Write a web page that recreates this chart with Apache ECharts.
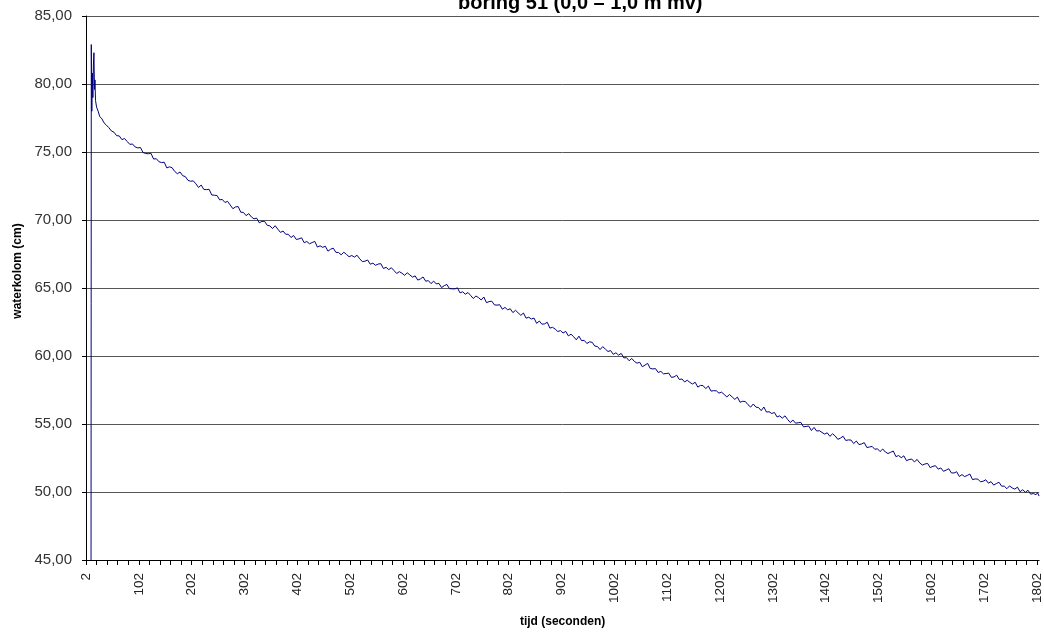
<!DOCTYPE html>
<html>
<head>
<meta charset="utf-8">
<title>boring 51</title>
<script src="https://cdn.jsdelivr.net/npm/echarts@6/dist/echarts.min.js"></script>
<style>
  html, body { margin: 0; padding: 0; background: #fff; }
  #chart { width: 1044px; height: 634px; }
</style>
</head>
<body>
<div id="chart"></div>
<script>
const seconds = [
  2, 11, 12, 13, 14, 15, 16, 17, 18, 19, 20, 22, 25, 28, 32, 36, 40, 45, 50, 55,
  60, 65, 70, 75, 80, 85, 90, 95, 100, 105, 110, 115, 120, 125, 130, 135, 140, 145, 150, 155,
  160, 165, 170, 175, 180, 185, 190, 195, 200, 205, 210, 215, 220, 225, 230, 235, 240, 245, 250, 255,
  260, 265, 270, 275, 280, 285, 290, 295, 300, 305, 310, 315, 320, 325, 330, 335, 340, 345, 350, 355,
  360, 365, 370, 375, 380, 385, 390, 395, 400, 405, 410, 415, 420, 425, 430, 435, 440, 445, 450, 455,
  460, 465, 470, 475, 480, 485, 490, 495, 500, 505, 510, 515, 520, 525, 530, 535, 540, 545, 550, 555,
  560, 565, 570, 575, 580, 585, 590, 595, 600, 605, 610, 615, 620, 625, 630, 635, 640, 645, 650, 655,
  660, 665, 670, 675, 680, 685, 690, 695, 700, 705, 710, 715, 720, 725, 730, 735, 740, 745, 750, 755,
  760, 765, 770, 775, 780, 785, 790, 795, 800, 805, 810, 815, 820, 825, 830, 835, 840, 845, 850, 855,
  860, 865, 870, 875, 880, 885, 890, 895, 900, 905, 910, 915, 920, 925, 930, 935, 940, 945, 950, 955,
  960, 965, 970, 975, 980, 985, 990, 995, 1000, 1005, 1010, 1015, 1020, 1025, 1030, 1035, 1040, 1045, 1050, 1055,
  1060, 1065, 1070, 1075, 1080, 1085, 1090, 1095, 1100, 1105, 1110, 1115, 1120, 1125, 1130, 1135, 1140, 1145, 1150, 1155,
  1160, 1165, 1170, 1175, 1180, 1185, 1190, 1195, 1200, 1205, 1210, 1215, 1220, 1225, 1230, 1235, 1240, 1245, 1250, 1255,
  1260, 1265, 1270, 1275, 1280, 1285, 1290, 1295, 1300, 1305, 1310, 1315, 1320, 1325, 1330, 1335, 1340, 1345, 1350, 1355,
  1360, 1365, 1370, 1375, 1380, 1385, 1390, 1395, 1400, 1405, 1410, 1415, 1420, 1425, 1430, 1435, 1440, 1445, 1450, 1455,
  1460, 1465, 1470, 1475, 1480, 1485, 1490, 1495, 1500, 1505, 1510, 1515, 1520, 1525, 1530, 1535, 1540, 1545, 1550, 1555,
  1560, 1565, 1570, 1575, 1580, 1585, 1590, 1595, 1600, 1605, 1610, 1615, 1620, 1625, 1630, 1635, 1640, 1645, 1650, 1655,
  1660, 1665, 1670, 1675, 1680, 1685, 1690, 1695, 1700, 1705, 1710, 1715, 1720, 1725, 1730, 1735, 1740, 1745, 1750, 1755,
  1760, 1765, 1770, 1775, 1780, 1785, 1790, 1795, 1800, 1803, 1806
];

// waterkolom (cm)
const waterkolom = [
  0, 0, 82.9, 78.0, 80.8, 79.0, 81.4, 82.3, 79.6, 80.3, 78.8, 78.3, 78.0, 77.6, 77.45, 77.15, 77.0, 76.8, 76.55, 76.45,
  76.2, 76.18, 75.91, 75.99, 75.77, 75.56, 75.59, 75.37,
  75.3, 75.33, 74.96, 74.89, 74.87, 74.9, 74.48, 74.51, 74.29, 74.22, 74.25, 73.83, 73.91, 73.84, 73.57, 73.4, 73.53, 73.26, 73.19, 72.92,
  72.85, 72.88, 72.66, 72.39, 72.57, 72.25, 72.23, 72.26, 71.84, 71.82, 71.8, 71.48, 71.51, 71.29, 71.37, 71.1, 70.83, 70.96, 70.99, 70.57,
  70.56, 70.32, 70.47, 70.23, 70.08, 70.14, 69.79, 69.9, 69.9, 69.61, 69.57, 69.37, 69.58, 69.33, 69.09, 69.19, 68.95, 68.95, 68.71, 68.86,
  68.57, 68.61, 68.69, 68.33, 68.42, 68.25, 68.34, 68.43, 68.01, 68.1, 67.99, 68.07, 67.71, 67.85, 67.93, 67.62, 67.61, 67.44, 67.63, 67.47,
  67.3, 67.39, 67.27, 67.41, 67.15, 66.94, 66.97, 67.06, 66.75, 66.83, 66.67, 66.76, 66.79, 66.43, 66.52, 66.35, 66.49, 66.28, 66.07, 66.2,
  66.09, 65.93, 66.12, 65.96, 65.8, 65.89, 65.58, 65.67, 65.81, 65.5, 65.54, 65.32, 65.51, 65.3, 65.34, 65.03, 65.17, 65.26, 64.95, 64.94,
  64.93, 65.01, 64.64, 64.72, 64.54, 64.67, 64.45, 64.23, 64.41, 64.29, 64.12, 64.34, 63.92, 64.0, 64.03, 63.76, 63.74, 63.77, 63.44, 63.57,
  63.4, 63.47, 63.19, 63.36, 63.17, 62.99, 63.16, 62.78, 62.85, 62.72, 62.79, 62.4, 62.57, 62.34, 62.36, 62.48, 62.05, 62.11, 61.98, 61.8,
  61.87, 61.69, 61.81, 61.48, 61.6, 61.42, 61.19, 61.46, 61.13, 61.15, 60.92, 61.04, 61.01, 60.73, 60.7, 60.47, 60.69, 60.51, 60.33, 60.4,
  60.12, 60.24, 60.06, 60.19, 59.86, 59.88, 59.65, 59.82, 59.6, 59.47, 59.54, 59.21, 59.33, 59.46, 59.08, 59.05, 59.07, 58.79, 58.87, 58.69,
  58.71, 58.74, 58.43, 58.46, 58.59, 58.27, 58.31, 58.09, 58.22, 58.06, 57.94, 58.07, 57.71, 57.84, 57.82, 57.6, 57.79, 57.42, 57.45, 57.44,
  57.27, 57.34, 57.17, 56.99, 57.17, 56.99, 56.81, 56.98, 56.6, 56.67, 56.65, 56.42, 56.24, 56.47, 56.24, 56.21, 55.98, 56.25, 55.88, 55.9,
  55.77, 55.85, 55.52, 55.6, 55.43, 55.6, 55.33, 55.11, 55.29, 55.06, 55.09, 55.12, 54.79, 54.82, 54.85, 54.52, 54.75, 54.48, 54.51, 54.38,
  54.26, 54.35, 54.09, 54.28, 54.12, 53.87, 53.96, 54.1, 53.79, 53.83, 53.82, 53.56, 53.75, 53.49, 53.53, 53.63, 53.27, 53.31, 53.35, 53.14,
  53.18, 52.97, 53.16, 52.94, 52.83, 52.92, 53.01, 52.6, 52.68, 52.52, 52.66, 52.3, 52.39, 52.42, 52.21, 52.4, 52.14, 51.98, 52.06, 52.1,
  51.79, 51.89, 51.93, 51.68, 51.77, 51.52, 51.61, 51.71, 51.4, 51.4, 51.49, 51.14, 51.28, 51.13, 51.22, 51.32, 50.91, 50.96, 50.95, 50.75,
  50.79, 50.9, 50.65, 50.76, 50.51, 50.62, 50.72, 50.43, 50.43, 50.24, 50.45, 50.3, 50.21, 50.36, 50.02, 50.17, 49.98, 50.13, 49.84, 49.89,
  49.8, 49.95, 49.7
];

// categorie-as van Excel: elke seconde van 2 t/m 1806
const firstSecond = 2;
const lastSecond = 1806;
const categories = [];
for (let s = firstSecond; s <= lastSecond; s++) categories.push(String(s));

const yTicks = { min: 45, max: 85, step: 5 };

const fmt = v => v.toFixed(2).replace('.', ',');

let myChart = echarts.init(document.getElementById('chart'));

myChart.setOption({
  animation: false,
  backgroundColor: '#fff',
  title: {
    text: 'boring 51 (0,0 \u2013 1,0 m mv)',
    left: 453,
    top: -12,
    textStyle: { fontFamily: 'Liberation Sans, Arial', fontSize: 20, fontWeight: 'bold', color: '#000' }
  },
  grid: { left: 86, right: 4, top: 16, bottom: 74 },
  xAxis: {
    type: 'category',
    data: categories,
    boundaryGap: false,
    name: 'tijd (seconden)',
    nameLocation: 'middle',
    nameGap: 56,
    nameTextStyle: { fontFamily: 'Liberation Sans, Arial', fontSize: 12, fontWeight: 'bold', color: '#000' },
    axisLine: { lineStyle: { color: '#000', width: 1 } },
    axisTick: { interval: 19, length: 5, lineStyle: { color: '#000' } },
    axisLabel: {
      interval: 99,
      rotate: 90,
      margin: 13,
      fontFamily: 'Liberation Sans, Arial',
      fontSize: 13.5,
      color: '#222'
    },
    splitLine: { show: false }
  },
  yAxis: {
    type: 'value',
    min: yTicks.min,
    max: yTicks.max,
    interval: yTicks.step,
    name: 'waterkolom (cm)',
    nameLocation: 'middle',
    nameGap: 62,
    nameTextStyle: {
      fontFamily: 'Liberation Sans, Arial',
      fontSize: 12,
      fontWeight: 'bold',
      color: '#000',
      padding: [0, 0, 0, 34]
    },
    axisLine: { show: true, lineStyle: { color: '#000', width: 1 } },
    axisTick: { show: true, length: 4, lineStyle: { color: '#000' } },
    axisLabel: {
      margin: 14,
      fontFamily: 'Liberation Sans, Arial',
      fontSize: 15,
      color: '#333',
      formatter: fmt
    },
    splitLine: { lineStyle: { color: '#555', width: 1 } }
  },
  series: [{
    type: 'line',
    data: seconds.map((s, i) => [String(s), waterkolom[i]]),
    showSymbol: false,
    symbol: 'none',
    clip: true,
    lineStyle: { color: '#000080', width: 1 }
  }]
});
</script>
</body>
</html>
